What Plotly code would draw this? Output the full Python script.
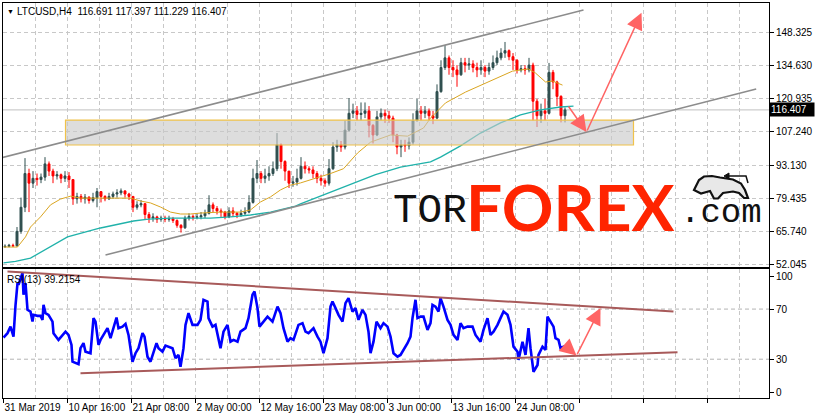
import plotly.graph_objects as go

# ---------------- data ----------------
# price candles, each candle = 4 H4 bars, starting 31 Mar 2019 00:00
candle_close = [59.8, 60.2, 60.0, 66.0, 76.0, 90.0, 86.0, 88.0, 87.5, 88.5,
                94.0, 91.0, 89.0, 89.5, 88.0, 89.0, 87.5, 79.5, 80.5, 79.5,
                80.2, 78.8, 80.0, 82.5, 80.5, 79.5, 80.5, 81.5, 82.0, 82.8,
                81.5, 80.5, 76.0, 77.0, 77.5, 73.0, 71.5, 72.0, 71.0, 71.5,
                71.0, 71.2, 70.5, 68.5, 67.5, 71.5, 72.2, 71.8, 72.0, 72.5,
                73.5, 77.0, 75.5, 74.5, 74.0, 72.0, 74.5, 73.5, 72.8, 73.5,
                74.0, 78.0, 88.0, 90.0, 88.0, 89.0, 90.0, 92.0, 102.0, 95.0,
                91.0, 86.0, 86.5, 88.0, 93.0, 92.0, 91.5, 90.0, 88.0, 87.0,
                86.0, 92.0, 101.0, 102.0, 101.0, 108.0, 115.0, 116.0, 114.5, 115.0,
                116.0, 110.0, 106.0, 113.5, 115.0, 114.0, 113.0, 106.0, 101.0, 102.0,
                101.5, 103.0, 112.0, 116.0, 115.0, 116.0, 114.0, 113.0, 124.0, 134.0,
                138.0, 134.0, 133.0, 131.0, 136.0, 135.0, 135.5, 134.0, 133.0, 134.0,
                132.5, 134.0, 136.0, 138.0, 140.0, 141.0, 138.5, 137.0, 133.0, 133.5,
                133.0, 135.0, 120.0, 114.0, 116.0, 115.0, 132.0, 128.0, 122.0, 114.0,
                116.407]
candle_high = [60.6, 60.8, 60.9, 67.8, 80.0, 96.4, 92.0, 91.0, 90.0, 90.0,
               96.8, 95.0, 92.0, 91.0, 90.0, 91.0, 90.6, 87.5, 82.0, 81.5,
               81.5, 80.5, 82.0, 84.0, 82.5, 81.0, 82.0, 82.5, 83.5, 83.8,
               83.0, 82.0, 80.5, 78.5, 79.0, 77.5, 74.0, 73.5, 72.5, 72.5,
               72.5, 72.5, 72.0, 71.0, 69.0, 72.5, 73.5, 73.0, 73.5, 74.0,
               75.0, 81.0, 78.0, 76.5, 75.5, 74.5, 76.0, 76.0, 74.0, 75.0,
               76.0, 81.0, 92.0, 95.6, 91.0, 92.0, 93.0, 95.0, 106.8, 102.5,
               95.5, 91.0, 89.0, 92.0, 96.8, 95.0, 93.0, 93.0, 91.0, 89.5,
               88.0, 96.0, 103.0, 104.0, 103.5, 112.0, 121.3, 119.0, 118.0, 119.5,
               119.5, 118.0, 110.5, 116.0, 117.0, 116.5, 116.0, 114.0, 106.5, 104.0,
               104.0, 105.0, 115.0, 121.0, 118.0, 118.0, 117.0, 116.0, 127.0, 137.0,
               143.3, 139.0, 137.0, 135.0, 138.0, 138.0, 138.0, 137.0, 136.0, 137.0,
               135.0, 136.0, 139.0, 141.0, 142.0, 144.6, 141.5, 140.0, 137.5, 135.0,
               135.0, 138.0, 136.0, 121.0, 119.0, 121.0, 135.9, 133.0, 128.5, 122.5,
               117.4]
candle_low = [59.2, 59.4, 59.5, 59.7, 65.0, 74.0, 74.0, 84.0, 85.0, 86.0,
              87.0, 89.0, 86.0, 87.5, 86.0, 86.5, 84.0, 77.0, 77.5, 78.0,
              77.5, 77.5, 78.0, 76.0, 78.0, 78.5, 79.0, 79.5, 80.0, 81.0,
              80.0, 79.0, 74.0, 75.0, 76.0, 70.8, 69.5, 70.0, 69.5, 70.0,
              69.8, 70.0, 69.5, 67.5, 65.5, 67.0, 70.5, 70.5, 71.0, 71.0,
              71.5, 73.0, 74.0, 73.0, 72.0, 71.0, 71.5, 72.0, 71.5, 72.0,
              72.5, 73.5, 77.5, 86.0, 86.0, 86.0, 87.0, 89.0, 91.0, 92.0,
              87.0, 84.0, 84.5, 85.0, 87.5, 90.0, 90.0, 88.0, 86.0, 85.0,
              84.5, 85.0, 91.5, 99.0, 99.0, 100.0, 107.5, 113.0, 112.0, 112.0,
              113.0, 105.0, 102.5, 105.5, 112.0, 111.0, 111.0, 103.0, 98.0, 96.8,
              99.0, 100.0, 102.0, 111.5, 112.0, 113.0, 112.0, 110.5, 112.5, 123.5,
              133.0, 131.0, 130.0, 126.0, 130.5, 132.0, 133.0, 132.0, 130.0, 131.0,
              130.0, 131.0, 133.0, 135.0, 137.0, 138.0, 137.0, 133.0, 131.5, 132.0,
              131.0, 132.0, 112.0, 109.3, 111.0, 112.0, 114.5, 125.0, 118.0, 111.2,
              111.2]
first_open = 59.6
BARS_PER_CANDLE = 4

# moving averages (bar index, value)
ma_fast_bar = [0, 14, 22, 27, 37, 47, 57, 67, 77, 97, 117, 127, 137, 147, 157, 167, 177,
               187, 197, 217, 237, 247, 257, 267, 277, 287, 297, 317, 327, 340, 354,
               367, 387, 404, 420, 427, 442, 462, 482, 495, 509, 525, 532, 542, 549, 559]
ma_fast_val = [59.5, 59.5, 63.7, 67.8, 72.0, 77.0, 79.4, 80.6, 79.8, 79.8, 79.8, 79.8,
               78.6, 77.8, 76.1, 74.0, 73.2, 73.2, 73.6, 74.0, 74.0, 74.9, 78.2, 80.3,
               83.2, 85.2, 86.1, 88.5, 90.0, 92.0, 98.5, 103.0, 106.0, 105.5, 108.9,
               113.0, 119.3, 123.8, 127.5, 129.6, 132.5, 133.4, 131.7, 128.0, 128.4, 126.7]
ma_slow_bar = [0, 12, 27, 45, 64, 97, 130, 145, 167, 187, 207, 227, 247, 267, 292, 297,
               322, 347, 372, 397, 427, 437, 457, 477, 497, 517, 537, 557, 570]
ma_slow_val = [52.9, 53.5, 54.9, 59.1, 63.7, 67.4, 70.3, 71.1, 71.5, 71.5, 71.5, 72.0,
               72.8, 74.0, 76.5, 77.4, 81.5, 85.5, 89.5, 92.7, 94.8, 96.8, 101.5, 106.8,
               111.0, 114.3, 116.4, 117.6, 118.0]

# RSI(13) (bar index, value)
rsi_bar = [0, 4, 7, 10, 12, 14, 15, 19, 20, 22, 24, 27, 29, 30, 34, 37, 39, 40, 42, 45,
           49, 50, 55, 59, 62, 65, 68, 69, 72, 75, 77, 80, 82, 85, 87, 90, 92, 95, 97,
           100, 104, 107, 110, 113, 115, 119, 122, 125, 129, 132, 135, 139, 141, 144,
           147, 150, 153, 155, 159, 162, 165, 169, 172, 175, 177, 180, 182, 185, 189,
           194, 197, 200, 204, 205, 209, 212, 217, 220, 224, 227, 230, 234, 237, 242,
           245, 249, 251, 254, 256, 260, 264, 269, 274, 277, 280, 284, 287, 290, 295,
           299, 302, 305, 310, 314, 317, 320, 324, 327, 329, 332, 335, 339, 342, 345,
           349, 352, 355, 359, 362, 365, 367, 370, 373, 377, 380, 384, 387, 390, 394,
           397, 400, 404, 407, 409, 412, 414, 417, 420, 424, 427, 429, 432, 435, 437,
           440, 444, 447, 450, 454, 457, 460, 464, 469, 472, 477, 480, 484, 487, 490,
           494, 497, 500, 504, 507, 510, 514, 515, 519, 522, 524, 525, 527, 530, 534,
           535, 539, 542, 544, 547, 550, 552, 555, 557, 560, 562]
rsi_val = [47.3, 50.8, 56.0, 48.0, 73.0, 90.8, 89.4, 98.8, 81.4, 90.8, 69.4, 68.0, 60.0,
           65.4, 64.6, 64.6, 61.4, 73.4, 66.8, 65.4, 60.0, 50.8, 45.4, 49.4, 52.0, 49.4,
           41.4, 28.0, 26.8, 26.0, 38.8, 42.8, 36.0, 35.6, 34.8, 62.8, 60.0, 41.4, 45.4,
           49.4, 54.8, 46.8, 54.8, 63.3, 54.8, 56.0, 58.2, 49.4, 28.0, 34.8, 38.8, 50.8,
           48.0, 32.0, 28.0, 34.8, 42.8, 38.8, 36.0, 40.9, 40.0, 38.8, 30.8, 33.4, 24.0,
           38.8, 57.4, 66.8, 57.4, 57.4, 61.4, 77.4, 76.0, 62.8, 56.0, 57.4, 38.8, 52.0,
           57.4, 44.0, 45.4, 44.0, 52.0, 54.8, 62.8, 81.4, 84.0, 70.8, 56.0, 60.0, 64.0,
           60.0, 72.0, 66.8, 54.8, 44.0, 46.8, 45.4, 57.4, 58.8, 52.0, 50.8, 54.8, 48.0,
           44.0, 34.8, 46.8, 72.0, 76.0, 70.8, 65.4, 60.0, 74.8, 78.8, 68.0, 70.8, 61.4,
           69.4, 65.4, 52.0, 34.8, 44.0, 60.0, 54.8, 58.8, 56.0, 48.0, 34.8, 32.0, 33.4,
           37.4, 42.8, 48.0, 62.8, 77.4, 62.8, 64.0, 64.0, 53.4, 58.8, 73.4, 72.0, 68.0,
           78.8, 72.0, 61.4, 57.4, 49.4, 45.4, 58.8, 54.8, 56.0, 56.0, 49.4, 44.0, 53.4,
           62.8, 49.4, 52.0, 57.4, 62.8, 68.0, 65.4, 57.4, 40.0, 36.0, 29.4, 44.0, 33.4,
           48.0, 54.8, 38.8, 20.0, 25.4, 33.4, 40.0, 37.4, 64.0, 60.0, 56.0, 46.8, 45.4,
           38.8, 40.0, 39.2154]

# axes
price_ticks = [148.325, 134.630, 120.935, 107.240, 93.130, 79.435, 65.740, 52.045]
price_tick_text = ["148.325", "134.630", "120.935", "107.240", "93.130", "79.435", "65.740", "52.045"]
time_tick_bars = [0, 64, 128, 192, 256, 320, 384, 448, 512, 576, 640, 704]
time_tick_text = ["31 Mar 2019", "10 Apr 16:00", "21 Apr 08:00", "2 May 00:00", "12 May 16:00",
                  "23 May 08:00", "3 Jun 00:00", "13 Jun 16:00", "24 Jun 08:00", "", "", ""]
minor_grid_bars = [32, 96, 160, 224, 288, 352, 416, 480, 544, 608, 672, 736]
rsi_levels = [70, 30]
last_price = 116.407
last_rsi = 39.2154

# drawing objects (bar index, value)
channel_upper = [(-3, 96.45), (580, 157.87)]
channel_lower = [(102, 56.19), (752.7, 125.08)]
zone_box = [(62, 101.85), (630, 112.2)]
price_arrows = [((564, 118.44), (583, 107.24)), ((583, 107.24), (638, 156.75))]
rsi_upper = [(4, 100.1), (670, 68.1)]
rsi_lower = [(77, 18.8), (674, 35.6)]
rsi_arrows = [((560, 42.0), (573, 32.9)), ((573, 32.9), (597, 70.8))]

# watermark bull outline (pixel positions of the logo decoration)
bull_outline = [(694, 190), (699, 180), (704, 176.5), (712, 176), (720, 177.5), (733, 179.5),
                (741, 183.5), (745, 190), (748, 198), (744, 198), (739, 193), (733, 191.5),
                (723, 193), (718, 198.5), (714, 198.5), (710, 191), (701, 193.5)]
bull_tail = [(727, 176), (746, 176), (748, 183)]

# ---------------- figure ----------------
W, H = 815, 419
ML, MR, MT, MB = 3, 46, 3, 21
PH = H - MT - MB
MAIN_BOTTOM_PX, RSI_TOP_PX = 267, 269


def py(y_px):
    return (H - MB - y_px) / PH


def px(x_px):
    return (x_px - ML) / (W - ML - MR)


def paper_path(points, close=True):
    s = "M " + " L ".join(f"{px(x):.5f},{py(y):.5f}" for x, y in points)
    return s + (" Z" if close else "")


candle_open = [first_open] + candle_close[:-1]
candle_bar = [BARS_PER_CANDLE * k + 1.5 for k in range(len(candle_close))]

FONT = "Liberation Sans, Arial"
FS = 10
GRID = "#C8C8C8"

fig = go.Figure()
fig.add_trace(go.Candlestick(
    x=candle_bar, open=candle_open, high=candle_high, low=candle_low, close=candle_close,
    increasing=dict(line=dict(color="#2F4F4F", width=1), fillcolor="#2F4F4F"),
    decreasing=dict(line=dict(color="#FF0000", width=1), fillcolor="#FF0000"),
    whiskerwidth=0, showlegend=False, hoverinfo="skip", xaxis="x", yaxis="y"))
fig.add_trace(go.Scatter(x=ma_fast_bar, y=ma_fast_val, mode="lines",
                         line=dict(color="#DAA520", width=1), showlegend=False,
                         xaxis="x", yaxis="y"))
fig.add_trace(go.Scatter(x=ma_slow_bar, y=ma_slow_val, mode="lines",
                         line=dict(color="#20B2AA", width=1.3), showlegend=False,
                         xaxis="x", yaxis="y"))
fig.add_trace(go.Scatter(x=rsi_bar, y=rsi_val, mode="lines",
                         line=dict(color="#0000FF", width=2.6), showlegend=False,
                         xaxis="x2", yaxis="y2"))

shapes = []
# current price line
shapes.append(dict(type="line", xref="paper", yref="y", x0=0, x1=1, y0=last_price, y1=last_price,
                   line=dict(color="#C0C0C0", width=1), layer="below"))
# RSI levels
for lv in rsi_levels:
    shapes.append(dict(type="line", xref="paper", yref="y2", x0=0, x1=1, y0=lv, y1=lv,
                       line=dict(color="#B4B4B4", width=1, dash="4px,3px"), layer="below"))
# zone box
shapes.append(dict(type="rect", xref="x", yref="y",
                   x0=zone_box[0][0], x1=zone_box[1][0], y0=zone_box[0][1], y1=zone_box[1][1],
                   fillcolor="rgba(200,200,200,0.62)", line=dict(color="#F0C24A", width=1.2),
                   layer="above"))
for (a, b) in (channel_upper, channel_lower):
    shapes.append(dict(type="line", xref="x", yref="y", x0=a[0], y0=a[1], x1=b[0], y1=b[1],
                       line=dict(color="#8C8C8C", width=1.5), layer="above"))
for (a, b) in (rsi_upper, rsi_lower):
    shapes.append(dict(type="line", xref="x2", yref="y2", x0=a[0], y0=a[1], x1=b[0], y1=b[1],
                       line=dict(color="#A85A5A", width=2), layer="above"))
# bull logo
shapes.append(dict(type="path", xref="paper", yref="paper", path=paper_path(bull_outline),
                   fillcolor="#E8E8E8", line=dict(color="#111111", width=2.2), layer="above"))
shapes.append(dict(type="path", xref="paper", yref="paper", path=paper_path(bull_tail, close=False),
                   line=dict(color="#111111", width=1.5), layer="above"))
shapes.append(dict(type="path", xref="paper", yref="paper",
                   path=paper_path([(724, 176), (729, 173), (729, 179)]),
                   fillcolor="#111111", line=dict(color="#111111", width=1), layer="above"))

ann = []
ARROW = "#FF6464"
for (tail, tip) in price_arrows:
    ann.append(dict(x=tip[0], y=tip[1], ax=tail[0], ay=tail[1], xref="x", yref="y",
                    axref="x", ayref="y", text="", showarrow=True, arrowhead=2,
                    arrowsize=2.2, arrowwidth=1.5, arrowcolor=ARROW, standoff=0))
for (tail, tip) in rsi_arrows:
    ann.append(dict(x=tip[0], y=tip[1], ax=tail[0], ay=tail[1], xref="x2", yref="y2",
                    axref="x2", ayref="y2", text="", showarrow=True, arrowhead=2,
                    arrowsize=2.2, arrowwidth=1.5, arrowcolor=ARROW, standoff=0))

# header texts
ann.append(dict(x=px(5), y=py(11), xref="paper", yref="paper", xanchor="left", yanchor="middle",
                text="▼", showarrow=False, font=dict(family=FONT, size=7, color="black")))
ann.append(dict(x=px(15), y=py(11), xref="paper", yref="paper", xanchor="left", yanchor="middle",
                text="LTCUSD,H4  116.691 117.397 111.229 116.407", showarrow=False,
                font=dict(family=FONT, size=FS, color="black")))
ann.append(dict(x=px(5), y=py(279), xref="paper", yref="paper", xanchor="left", yanchor="middle",
                text="RSI(13) " + f"{last_rsi:.4f}", showarrow=False,
                font=dict(family=FONT, size=FS, color="black")))
# last price label
ann.append(dict(x=1, y=last_price, xref="paper", yref="y", xanchor="left", yanchor="middle",
                xshift=0, text=f"{last_price:.3f}", showarrow=False, bgcolor="black",
                borderpad=1, width=42, align="left",
                font=dict(family=FONT, size=FS, color="white")))

# watermark
ann.append(dict(x=px(391), y=py(211), xref="paper", yref="paper", xanchor="left", yanchor="middle",
                text="TOR", showarrow=False,
                font=dict(family="Liberation Mono", size=41, color="#111111")))
ann.append(dict(x=px(464), y=py(206), xref="paper", yref="paper", xanchor="left", yanchor="middle",
                text="<b>FOREX</b>", showarrow=False,
                font=dict(family="Lato", size=64, color="#FF2400", weight=900)))
ann.append(dict(x=px(678), y=py(213), xref="paper", yref="paper", xanchor="left", yanchor="middle",
                text=".com", showarrow=False,
                font=dict(family="Liberation Mono", size=34, color="#111111")))

axis_common = dict(showline=True, mirror=True, linecolor="black", linewidth=1, zeroline=False,
                   automargin=False)
fig.update_layout(
    width=W, height=H, margin=dict(l=ML, r=MR, t=MT, b=MB, autoexpand=False),
    paper_bgcolor="white", plot_bgcolor="white", showlegend=False,
    shapes=shapes, annotations=ann,
    xaxis=dict(domain=[0, 1], anchor="y", range=[-0.5, 765.5], rangeslider=dict(visible=False),
               tickvals=time_tick_bars, showticklabels=False, ticks="",
               showgrid=True, gridcolor=GRID, griddash="4px,3px", gridwidth=1,
               minor=dict(tickvals=minor_grid_bars, showgrid=True, gridcolor=GRID,
                          griddash="4px,3px", gridwidth=1),
               **axis_common),
    yaxis=dict(domain=[py(MAIN_BOTTOM_PX), 1], anchor="x", range=[51.21, 160.77], side="right",
               tickvals=price_ticks, ticktext=price_tick_text, ticks="outside", ticklen=4,
               tickcolor="black", showgrid=True, gridcolor=GRID, griddash="4px,3px",
               tickfont=dict(family=FONT, size=FS, color="black"), **axis_common),
    xaxis2=dict(domain=[0, 1], anchor="y2", range=[-0.5, 765.5],
                tickvals=time_tick_bars, ticktext=time_tick_text, ticks="outside", ticklen=4,
                tickcolor="black", ticklabelposition="outside right", tickangle=0,
                tickfont=dict(family=FONT, size=FS, color="black"),
                showgrid=True, gridcolor=GRID, griddash="4px,3px",
                minor=dict(tickvals=minor_grid_bars, showgrid=True, gridcolor=GRID,
                           griddash="4px,3px", gridwidth=1),
                **axis_common),
    yaxis2=dict(domain=[0, py(RSI_TOP_PX)], anchor="x2", range=[-0.96, 102.0], side="right",
                tickvals=[95.8, 70, 30, 3.8], ticktext=["100", "70", "30", "0"],
                ticks="outside", ticklen=4, tickcolor="black", showgrid=False,
                tickfont=dict(family=FONT, size=FS, color="black"), **axis_common),
)

fig.write_html("out.html", config={"displayModeBar": False},
               post_script="document.body.style.margin='0';document.body.style.padding='0';"
                           "document.body.style.overflow='hidden';")
